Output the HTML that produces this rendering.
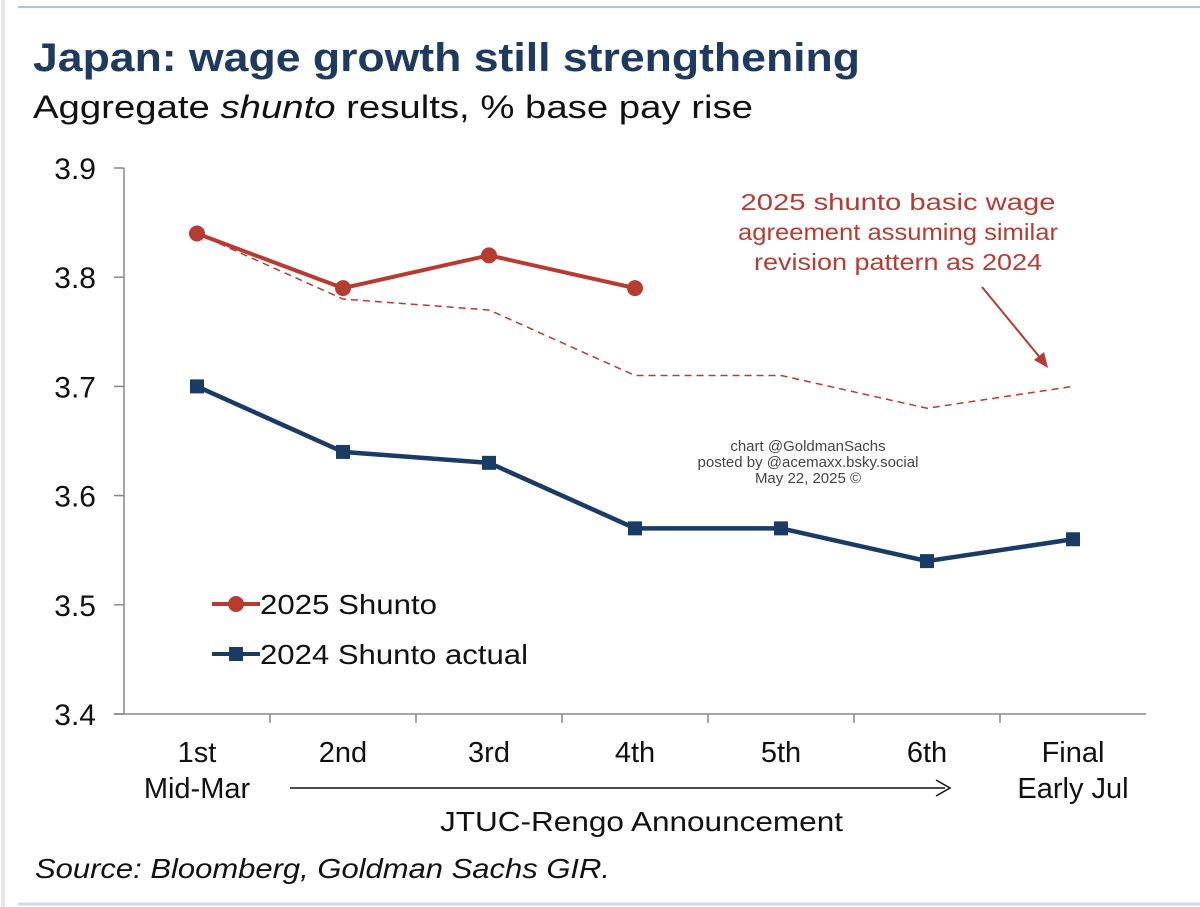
<!DOCTYPE html>
<html><head><meta charset="utf-8"><style>
body{margin:0;background:#fff;width:1200px;height:907px;overflow:hidden;font-family:"Liberation Sans",sans-serif}
svg{position:absolute;left:0;top:0}
</style></head><body>
<svg width="1200" height="907">
<rect x="0" y="0" width="1200" height="907" fill="#fff"/>
<line x1="3" y1="0" x2="3" y2="907" stroke="#e4e6ea" stroke-width="4"/>
<line x1="18" y1="7" x2="1200" y2="7" stroke="#b7c3d3" stroke-width="2"/>
<line x1="18" y1="904" x2="1200" y2="904" stroke="#d5dbe3" stroke-width="3"/>
<text x="33" y="71" font-size="40" font-weight="bold" fill="#1f3a5f" textLength="827" lengthAdjust="spacingAndGlyphs">Japan: wage growth still strengthening</text>
<text x="33" y="118" font-size="32" fill="#111" textLength="720" lengthAdjust="spacingAndGlyphs">Aggregate <tspan font-style="italic">shunto</tspan> results, % base pay rise</text>
<g id="axes"></g>
<g id="marks"></g>
<text font-size="23" fill="#b83b32" text-anchor="middle"><tspan x="898" y="210" textLength="315" lengthAdjust="spacingAndGlyphs">2025 shunto basic wage</tspan><tspan x="898" y="240" textLength="320" lengthAdjust="spacingAndGlyphs">agreement assuming similar</tspan><tspan x="898" y="270" textLength="288" lengthAdjust="spacingAndGlyphs">revision pattern as 2024</tspan></text>
<line x1="982" y1="287" x2="1042" y2="360" stroke="#b83b32" stroke-width="2"/>
<polygon points="1048,368 1034,360 1044,352" fill="#b83b32"/>
<text x="808" y="451" font-size="15" fill="#444" text-anchor="middle"><tspan x="808">chart @GoldmanSachs</tspan><tspan x="808" dy="16">posted by @acemaxx.bsky.social</tspan><tspan x="808" dy="16">May 22, 2025 ©</tspan></text>
<g>
<line x1="212" y1="604" x2="260" y2="604" stroke="#b83b32" stroke-width="4"/>
<circle cx="236" cy="604" r="8" fill="#b83b32"/>
<text x="260" y="614" font-size="28" fill="#111" textLength="177" lengthAdjust="spacingAndGlyphs">2025 Shunto</text>
<line x1="212" y1="654" x2="260" y2="654" stroke="#1a3b66" stroke-width="4"/>
<rect x="229" y="647" width="14" height="14" fill="#1a3b66"/>
<text x="260" y="664" font-size="28" fill="#111" textLength="268" lengthAdjust="spacingAndGlyphs">2024 Shunto actual</text>
</g>
<line x1="290" y1="788" x2="945" y2="788" stroke="#111" stroke-width="1.5"/>
<polyline points="936,780 950,788 936,796" fill="none" stroke="#111" stroke-width="1.5"/>
<text x="440" y="831" font-size="28" fill="#111" textLength="403" lengthAdjust="spacingAndGlyphs">JTUC-Rengo Announcement</text>
<text x="35" y="878" font-size="28" font-style="italic" fill="#111" textLength="575" lengthAdjust="spacingAndGlyphs">Source: Bloomberg, Goldman Sachs GIR.</text>
</svg>
<script>
const categories=["1st","2nd","3rd","4th","5th","6th","Final"];
const categorySub=["Mid-Mar","","","","","","Early Jul"];
const s2025=[3.84,3.79,3.82,3.79];
const s2025proj=[3.84,3.78,3.77,3.71,3.71,3.68,3.70];
const s2024=[3.70,3.64,3.63,3.57,3.57,3.54,3.56];
const yTicks=[3.4,3.5,3.6,3.7,3.8,3.9];
const NS="http://www.w3.org/2000/svg";
const X0=124,CW=146,Y0=714,YMIN=3.4,YMAX=3.9,YTOP=168;
function xs(i){return X0+CW*(i+0.5);}
function ys(v){return Y0-(v-YMIN)/(YMAX-YMIN)*(Y0-YTOP);}
function mk(tag,attrs,parent){const e=document.createElementNS(NS,tag);for(const k in attrs)e.setAttribute(k,attrs[k]);parent.appendChild(e);return e;}
const ax=document.getElementById('axes'),mg=document.getElementById('marks');
let e=mk('line',{x1:X0,y1:YTOP,x2:X0,y2:Y0,stroke:'#888','stroke-width':1.5},ax);


e=mk('line',{x1:X0-10,y1:Y0,x2:X0+CW*categories.length,y2:Y0,stroke:'#888','stroke-width':1.5},ax);


yTicks.forEach(t=>{
 const y=ys(t);
 mk('line',{x1:X0-10,y1:y,x2:X0,y2:y,stroke:'#888','stroke-width':1.5},ax);
 const tx=mk('text',{x:96,y:y+11,'font-size':30,'text-anchor':'end',fill:'#111'},ax);
 tx.textContent=t.toFixed(1);
 
 
});
categories.forEach((c,i)=>{
 if(i>0) mk('line',{x1:X0+CW*i,y1:Y0,x2:X0+CW*i,y2:Y0+9,stroke:'#888','stroke-width':1.5},ax);
 const tx=mk('text',{x:xs(i),y:762,'font-size':29,'text-anchor':'middle',fill:'#111'},ax);
 tx.textContent=c;
 
 
 if(categorySub[i]){
  const t2=mk('text',{x:xs(i),y:798,'font-size':29,'text-anchor':'middle',fill:'#111'},ax);
  t2.textContent=categorySub[i];
  
  
 }
});
function pts(arr){return arr.map((v,i)=>xs(i)+','+ys(v)).join(' ');}
e=mk('polyline',{points:pts(s2025proj),fill:'none',stroke:'#b83b32','stroke-width':1.5,'stroke-dasharray':'7,5'},mg);


e=mk('polyline',{points:pts(s2024),fill:'none',stroke:'#1a3b66','stroke-width':4.5},mg);


s2024.forEach((v,i)=>{
 const r=mk('rect',{x:xs(i)-7,y:ys(v)-7,width:14,height:14,fill:'#1a3b66'},mg);
 
 
});
e=mk('polyline',{points:pts(s2025),fill:'none',stroke:'#b83b32','stroke-width':4},mg);


s2025.forEach((v,i)=>{
 const c=mk('circle',{cx:xs(i),cy:ys(v),r:8,fill:'#b83b32'},mg);
 
 
});
</script>
</body></html>
